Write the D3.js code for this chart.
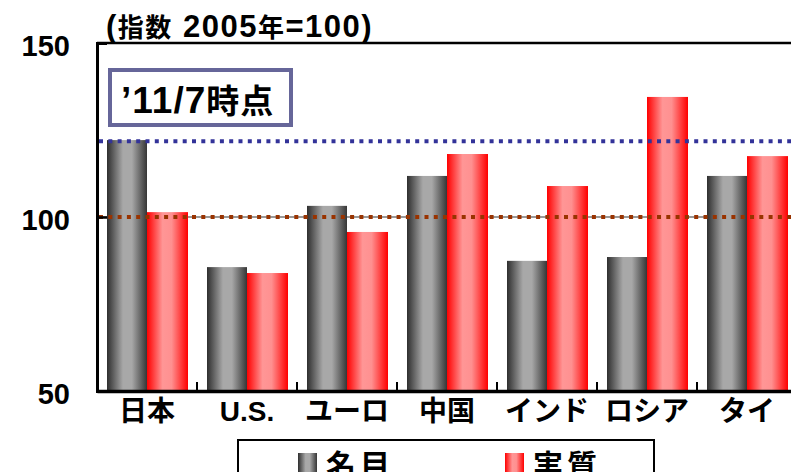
<!DOCTYPE html>
<html lang="ja">
<head>
<meta charset="utf-8" />
<title>名目・実質 実効為替レート</title>
<script src="https://cdn.jsdelivr.net/npm/d3@7/dist/d3.min.js"></script>
<style>
  body { margin: 0; background: #fff; }
  text { font-family: "Liberation Sans", "Noto Sans CJK JP", sans-serif; font-weight: bold; fill: #000; }
</style>
</head>
<body>
<svg width="791" height="472"></svg>
<script>
// data (index, 2005 = 100)
var categories = ["日本", "U.S.", "ユーロ", "中国", "インド", "ロシア", "タイ"];
var nominal = [122.1, 85.6, 103.2, 111.8, 87.4, 88.5, 111.8];
var real = [101.4, 83.9, 95.7, 118.1, 108.9, 134.5, 117.5];
var seriesNames = ["名目", "実質"];
var yTicks = [50, 100, 150];
var blueLine = 121.8;   // Japan nominal level
var baseLine = 100;

var svg = d3.select("svg");
var plotL = 97, plotR = 797, plotT = 43, plotB = 391;

var x = d3.scaleBand().domain(categories).range([plotL, plotR]).padding(0);
var y = d3.scaleLinear().domain([50, 150]).range([plotB, plotT]);
var barW = x.bandwidth() * 0.4;
var barOff = x.bandwidth() * 0.1;

// gradients
var defs = svg.append("defs");
var g1 = defs.append("linearGradient").attr("id", "gGray");
g1.append("stop").attr("offset", "0%").attr("stop-color", "#2e2e2e");
g1.append("stop").attr("offset", "40%").attr("stop-color", "#a8a8a8");
g1.append("stop").attr("offset", "62%").attr("stop-color", "#a8a8a8");
g1.append("stop").attr("offset", "100%").attr("stop-color", "#363636");
var g2 = defs.append("linearGradient").attr("id", "gRed");
g2.append("stop").attr("offset", "0%").attr("stop-color", "#ff0000");
g2.append("stop").attr("offset", "38%").attr("stop-color", "#ff9696");
g2.append("stop").attr("offset", "60%").attr("stop-color", "#ff9090");
g2.append("stop").attr("offset", "100%").attr("stop-color", "#ff0000");

// gray line at 100 under bars
svg.append("line")
  .attr("x1", plotL).attr("x2", plotR)
  .attr("y1", y(baseLine)).attr("y2", y(baseLine))
  .attr("stroke", "#999").attr("stroke-width", 2);

// bars
svg.append("g").selectAll("rect")
  .data(nominal).enter().append("rect")
  .attr("x", function (d, i) { return x(categories[i]) + barOff; })
  .attr("y", function (d) { return y(d); })
  .attr("width", barW)
  .attr("height", function (d) { return y(50) - y(d); })
  .attr("fill", "url(#gGray)");

svg.append("g").selectAll("rect")
  .data(real).enter().append("rect")
  .attr("x", function (d, i) { return x(categories[i]) + barOff + barW; })
  .attr("y", function (d) { return y(d); })
  .attr("width", barW + 1)
  .attr("height", function (d) { return y(50) - y(d); })
  .attr("fill", "url(#gRed)");

// dotted reference lines on top of bars
svg.append("line")
  .attr("x1", plotL + 2).attr("x2", plotR)
  .attr("y1", y(blueLine)).attr("y2", y(blueLine))
  .attr("stroke", "#333399").attr("stroke-width", 4)
  .attr("stroke-dasharray", "4,5.3");
svg.append("line")
  .attr("x1", plotL + 2).attr("x2", plotR)
  .attr("y1", y(baseLine)).attr("y2", y(baseLine))
  .attr("stroke", "#993300").attr("stroke-width", 4)
  .attr("stroke-dasharray", "4,5.3");

// frame top
svg.append("line")
  .attr("x1", plotL).attr("x2", plotR)
  .attr("y1", plotT).attr("y2", plotT)
  .attr("stroke", "#000").attr("stroke-width", 2.5);

// y axis
var yAxis = svg.append("g")
  .attr("transform", "translate(" + plotL + ",0)")
  .call(d3.axisLeft(y).tickValues(yTicks).tickSize(-10).tickPadding(27));
yAxis.select(".domain").attr("stroke-width", 3);
yAxis.selectAll(".tick line").attr("stroke-width", 2.5);
yAxis.selectAll(".tick text")
  .style("font-size", "29px").attr("dy", "0.42em");

// x axis
var xAxis = svg.append("g")
  .attr("transform", "translate(0," + plotB + ")")
  .call(d3.axisBottom(x).tickSize(0).tickPadding(10));
xAxis.select(".domain").attr("stroke-width", 3.5);
xAxis.selectAll(".tick text").style("font-size", "28px");
// tick marks between categories, pointing up
svg.append("g").selectAll("line")
  .data(categories.slice(1)).enter().append("line")
  .attr("x1", function (d) { return x(d); })
  .attr("x2", function (d) { return x(d); })
  .attr("y1", plotB).attr("y2", plotB - 9)
  .attr("stroke", "#000").attr("stroke-width", 2);

// title
var title = svg.append("text").attr("x", 106).attr("y", 37).style("letter-spacing", "1.5px");
title.append("tspan").style("font-size", "31px").text("(");
title.append("tspan").style("font-size", "26px").text("指数");
title.append("tspan").style("font-size", "31px").text(" 2005");
title.append("tspan").style("font-size", "26px").text("年");
title.append("tspan").style("font-size", "31px").text("=100)");

// annotation box
svg.append("rect")
  .attr("x", 110).attr("y", 70).attr("width", 181).attr("height", 55)
  .attr("fill", "#fff").attr("stroke", "#666699").attr("stroke-width", 4);
var note = svg.append("text").attr("x", 121).attr("y", 113).style("letter-spacing", "1px");
note.append("tspan").style("font-size", "37px").text("’11/7");
note.append("tspan").style("font-size", "33px").text("時点");

// legend
svg.append("rect")
  .attr("x", 238).attr("y", 440).attr("width", 416).attr("height", 60)
  .attr("fill", "#fff").attr("stroke", "#000").attr("stroke-width", 2);
var legendX = [298, 505];
var legendFill = ["url(#gGray)", "url(#gRed)"];
seriesNames.forEach(function (name, i) {
  svg.append("rect")
    .attr("x", legendX[i]).attr("y", 453).attr("width", 19).attr("height", 22)
    .attr("fill", legendFill[i]);
  svg.append("text")
    .attr("x", legendX[i] + 28).attr("y", 476)
    .style("font-size", "30px").style("letter-spacing", "4px")
    .text(name);
});
</script>
</body>
</html>
